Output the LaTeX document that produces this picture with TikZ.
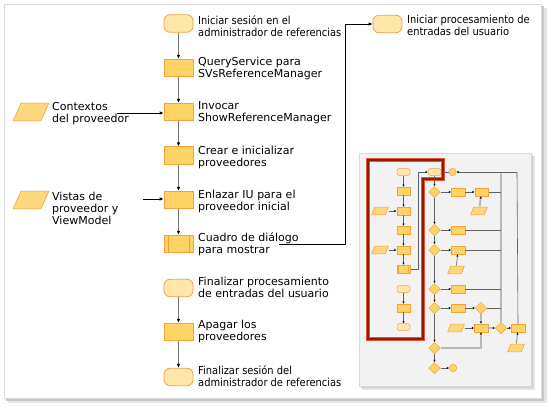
\documentclass[tikz,border=0pt]{standalone}
\usepackage{fontspec}
\setmainfont{DejaVu Sans}
\newfontfamily\tahfont[FakeStretch=0.9]{DejaVu Sans}
\usetikzlibrary{arrows.meta,shapes.geometric,calc}
\definecolor{termfill}{HTML}{FFE7AA}
\definecolor{termdraw}{HTML}{EFA04E}
\definecolor{procfill}{HTML}{FFD366}
\definecolor{procdraw}{HTML}{F2A33A}
\definecolor{iofill}{HTML}{FFD77E}
\definecolor{redframe}{HTML}{8E1C02}
\definecolor{redglow}{HTML}{E4553A}
\tikzset{
  term/.style={draw=termdraw,fill=termfill,line width=0.8pt,rounded corners=6pt,minimum width=29pt,minimum height=17.5pt,inner sep=0pt},
  proc/.style={draw=procdraw,fill=procfill,line width=0.8pt,minimum width=29pt,minimum height=17.5pt,inner sep=0pt},
  para/.style n args={3}{minimum width=#1,minimum height=#2,inner sep=0pt,
    path picture={\filldraw[draw=procdraw,fill=iofill,line width=0.6pt,line join=round]
      ([xshift=0.6pt,yshift=0.6pt]path picture bounding box.south west) --
      ([xshift=-#3-0.6pt,yshift=0.6pt]path picture bounding box.south east) --
      ([xshift=-0.6pt,yshift=-0.6pt]path picture bounding box.north east) --
      ([xshift=#3+0.6pt,yshift=-0.6pt]path picture bounding box.north west) -- cycle;}},
  iobox/.style={para={37pt}{19pt}{8pt}},
  lbl/.style={anchor=west,align=left,inner sep=0pt,font=\fontsize{11}{12}\selectfont},
  tlbl/.style={anchor=west,align=left,inner sep=0pt,font=\fontsize{11}{12}\selectfont\tahfont},
  vflow/.style={draw=black!55,line width=1.4pt,-{Latex[length=4pt,width=3.6pt,color=black]}},
  hflow/.style={draw=black,line width=0.8pt,-{Latex[length=4pt,width=3.6pt]}},
  tterm/.style={draw=termdraw,fill=termfill,line width=0.5pt,rounded corners=2.5pt,minimum width=13pt,minimum height=7pt,inner sep=0pt},
  tproc/.style={draw=procdraw,fill=procfill,line width=0.5pt,minimum width=13.5pt,minimum height=8pt,inner sep=0pt},
  tio/.style={para={18pt}{9pt}{3.2pt}},
  tdec/.style={diamond,draw=procdraw,fill=procfill,line width=0.5pt,minimum width=11.5pt,minimum height=11.5pt,inner sep=0pt},
  tcirc/.style={circle,draw=procdraw,fill=procfill,line width=0.5pt,minimum size=7.5pt,inner sep=0pt},
  tl/.style={draw=black!62,line width=0.6pt},
  ta/.style={tl,-{Latex[length=2.2pt,width=2.2pt,color=black]}},
  tthick/.style={draw=black!28,line width=2pt},
  tthicka/.style={tthick,-{Latex[length=2.2pt,width=2.4pt,color=black]}},
}
\begin{document}
\begin{tikzpicture}[x=1pt,y=-1pt]
\useasboundingbox (0,0) rectangle (551,408);
% outer frame
\fill[black!10] (8,8) rectangle (547,403);
\fill[black!22] (6,6) rectangle (544,401);
\filldraw[fill=white,draw=black!14,line width=0.8pt] (4,4) rectangle (541,398);

% main flow
\node[term] (s1) at (178.5,23.5) {};
\node[proc] (s2) at (178.5,68) {};
\node[proc] (s3) at (178.5,112) {};
\node[proc] (s4) at (178.5,155.5) {};
\node[proc] (s5) at (178.5,200) {};
\node[proc] (s6) at (178.5,244) {};
\draw[procdraw,line width=0.8pt] ([xshift=4.5pt]s6.north west) -- ([xshift=4.5pt]s6.south west)
  ([xshift=-4.5pt]s6.north east) -- ([xshift=-4.5pt]s6.south east);
\node[term] (s7) at (178.5,288) {};
\node[proc] (s8) at (178.5,332) {};
\node[term] (s9) at (178.5,377) {};
\node[term] (u1) at (387.5,24) {};

\node[iobox] (i1) at (31,112) {};
\node[iobox] (i2) at (31,200) {};

\node[tlbl] (l1) at (198,26) {Iniciar sesión en el\\administrador de referencias};
\node[lbl] (l2) at (198,68) {QueryService para\\SVsReferenceManager};
\node[lbl] (l3) at (198,113) {Invocar\\ShowReferenceManager};
\node[lbl] (l4) at (198,157) {Crear e inicializar\\proveedores};
\node[lbl] (l5) at (198,201) {Enlazar IU para el\\proveedor inicial};
\node[lbl] (l6) at (198,244) {Cuadro de diálogo\\para mostrar};
\node[lbl] (l7) at (198,287) {Finalizar procesamiento\\de entradas del usuario};
\node[lbl] (l8) at (198,331) {Apagar los\\proveedores};
\node[tlbl] (l9) at (198,376) {Finalizar sesión del\\administrador de referencias};
\node[tlbl] (lu) at (407,25) {Iniciar procesamiento de\\entradas del usuario};
\node[lbl] (li1) at (52,114) {Contextos\\del proveedor};
\node[lbl] (li2) at (52,208) {Vistas de\\proveedor y\\ViewModel};

\draw[vflow] (s1) -- (s2);
\draw[vflow] (s2) -- (s3);
\draw[vflow] (s3) -- (s4);
\draw[vflow] (s4) -- (s5);
\draw[vflow] (s5) -- (s6);
\draw[vflow] (s7) -- (s8);
\draw[vflow] (s8) -- (s9);

\coordinate (c1) at (117,113);
\coordinate (c2) at (143,199);
\coordinate (c3) at (279,244);
\draw[hflow] (c1) -- (c1 -| s3.west);
\draw[hflow] (c2) -- (c2 -| s5.west);
\draw[hflow] (c3) -- (345,244) -- (345,24) -- (u1.west);

% thumbnail panel
\fill[black!10] (362,156) rectangle (535,390);
\fill[black!20] (361,155) rectangle (533,388);
\filldraw[fill=black!5,draw=black!14,line width=0.6pt] (359,153) rectangle (531,386);

\node[tterm] (a1) at (403.5,172) {};
\node[tproc] (a2) at (403.5,191) {};
\node[tproc] (a3) at (403.5,211) {};
\node[tio] (ai1) at (380,211) {};
\node[tproc] (a4) at (403.5,230) {};
\node[tproc] (a5) at (403.5,250) {};
\node[tio] (ai2) at (380,250) {};
\node[tproc] (a6) at (403.5,269) {};
\draw[procdraw,line width=0.5pt] ([xshift=2pt]a6.north west) -- ([xshift=2pt]a6.south west)
  ([xshift=-2pt]a6.north east) -- ([xshift=-2pt]a6.south east);
\node[tterm] (a7) at (403.5,289) {};
\node[tproc] (a8) at (403.5,308) {};
\node[tterm] (a9) at (403.5,327) {};

\node[tterm] (b0) at (434.5,172) {};
\node[tcirc] (c0) at (452.5,172) {};
\node[tdec] (d1) at (434.5,192) {};
\node[tproc] (p1) at (458,192) {};
\node[tproc] (p2) at (481.5,192) {};
\node[tio] (q1) at (479,211) {};
\node[tdec] (d2) at (434.5,230) {};
\node[tproc] (p3) at (458,230) {};
\node[tdec] (d3) at (434.5,250) {};
\node[tproc] (p4) at (458,250) {};
\node[tio] (q2) at (456,270) {};
\node[tdec] (d4) at (434.5,289) {};
\node[tproc] (p5) at (458,289) {};
\node[tdec] (d5) at (434.5,308) {};
\node[tproc] (p6) at (458,308) {};
\node[tdec] (d8) at (481,308) {};
\node[tio] (q3) at (456,328) {};
\node[tproc] (p7) at (481,328) {};
\node[tdec] (d9) at (501,328) {};
\node[tproc] (p8) at (518,328) {};
\node[tio] (q4) at (516,348) {};
\node[tdec] (d6) at (434.5,348) {};
\node[tdec] (d7) at (434.5,368) {};
\node[tcirc] (c9) at (453,368) {};

\coordinate (bar) at (501,172);
\coordinate (rl) at (517,172);

% thumbnail connectors
\draw[ta] (a1) -- (a2);
\draw[ta] (a2) -- (a3);
\draw[ta] (a3) -- (a4);
\draw[ta] (a4) -- (a5);
\draw[ta] (a5) -- (a6);
\draw[ta] (a7) -- (a8);
\draw[ta] (a8) -- (a9);
\draw[ta] (ai1) -- (a3);
\draw[ta] (ai2) -- (a5);
\draw[ta] (a6.east) -- (418,269) -- (418,172) -- (b0.west);

\draw[tthick] (bar) -- (d9.north);
\draw[tl] (rl) -- (p8.north);
\draw[ta] (rl) -- (c0);
\draw[ta] (c0) -- (b0);
\draw[ta] (b0) -- (d1);
\draw[ta] (d1) -- (d2);
\draw[ta] (d2) -- (d3);
\draw[ta] (d3) -- (d4);
\draw[ta] (d4) -- (d5);
\draw[ta] (d5) -- (d6);
\draw[ta] (d6) -- (d7);
\draw[ta] (d1) -- (p1);
\draw[ta] (p1) -- (p2);
\draw[ta] (d2) -- (p3);
\draw[ta] (d3) -- (p4);
\draw[ta] (d4) -- (p5);
\draw[ta] (d5) -- (p6);
\draw[ta] (p6) -- (d8);
\draw[ta] (d7) -- (c9);
\draw[tl] (p2.east) -- (p2.east -| bar);
\draw[tl] (p3.east) -- (p3.east -| bar);
\draw[tl] (p4.east) -- (p4.east -| bar);
\draw[tl] (p5.east) -- (p5.east -| bar);
\draw[tl] (d8.east) -- (d8.east -| bar);
\draw[tthicka] (q1) -- (p2);
\draw[ta] (q2) -- (p4);
\draw[ta] (q3) -- (p7);
\draw[tthicka] (d8) -- (p7);
\draw[tthicka] (p7) -- (d9);
\draw[ta] (d9) -- (p8);
\draw[ta] (q4) -- (p8);
\draw[tthicka] (d6.east) -- (d6.east -| p7) -- (p7.south);

% red highlight
\draw[redglow,line width=3.2pt,line join=miter] (368,160) -- (443,160) -- (443,179) -- (423,179) -- (423,339) -- (368,339) -- cycle;
\draw[redframe,line width=1.8pt,line join=miter] (368,160) -- (443,160) -- (443,179) -- (423,179) -- (423,339) -- (368,339) -- cycle;
\end{tikzpicture}
\end{document}
